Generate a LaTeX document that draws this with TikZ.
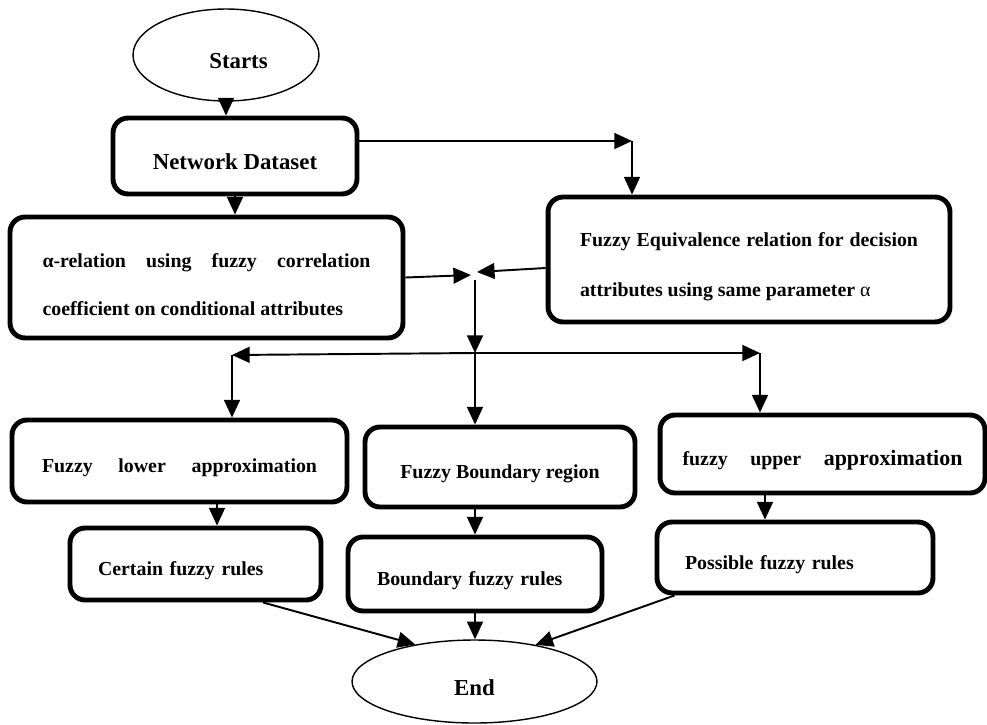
\documentclass[tikz,border=0pt]{standalone}
\usepackage{fontspec}
\setmainfont{Liberation Serif}
\usetikzlibrary{shapes.geometric,arrows.meta,positioning,calc}

\begin{document}
\begin{tikzpicture}[x=0.02cm, y=-0.02cm,
    lowtext/.style={execute at begin node={\rule{0pt}{16pt}}},
    box/.style={rectangle, draw, line width=2.8pt, rounded corners=3mm, inner sep=0pt, lowtext, font=\bfseries\fontsize{11.3}{27}\selectfont},
    term/.style={ellipse, draw, line width=0.8pt, inner sep=0pt, lowtext, font=\bfseries\fontsize{13}{15}\selectfont},
    arr/.style={-{Triangle[length=10pt,width=9pt]}, line width=1.1pt}]
    \useasboundingbox (0,0) rectangle (987,724);

    % Start and dataset
    \node[term, minimum width=37.2mm, minimum height=18.4mm] (start) at (226,55) {\hspace*{5mm}Starts};
    \node[box, minimum width=48.8mm, minimum height=15.2mm, font=\bfseries\fontsize{13}{15}\selectfont] (nd) at (235,156) {Network Dataset};

    % Relations
    \node[box, minimum width=78.6mm, minimum height=24.2mm, text width=65.6mm, align=justify] (alpha) at (206.5,277.5)
        {α-relation using fuzzy correlation\linebreak coefficient on conditional attributes};
    \node[box, minimum width=80.4mm, minimum height=25mm, text width=67.6mm, align=justify, font=\bfseries\fontsize{11.3}{28.5}\selectfont] (fe) at (749,259.5)
        {Fuzzy Equivalence relation for decision\linebreak attributes using same parameter {\mdseries α}};

    % Approximations
    \node[box, minimum width=67mm, minimum height=16.4mm, text width=55mm, align=left] (low) at (179.5,461)
        {Fuzzy\hfill lower\hfill approximation};
    \node[box, minimum width=54mm, minimum height=16mm] (bnd) at (500,467) {Fuzzy Boundary region};
    \node[box, minimum width=65mm, minimum height=15.6mm, text width=56mm, align=left] (up) at (822.5,454)
        {fuzzy\hfill upper\hfill {\fontsize{12.5}{14}\selectfont approximation}};

    % Rules
    \node[box, minimum width=50.2mm, minimum height=14.4mm, text width=39mm, align=left] (cer) at (195.5,564) {Certain fuzzy rules};
    \node[box, minimum width=50.8mm, minimum height=14.8mm, text width=39.2mm, align=left] (bfr) at (475,574) {Boundary fuzzy rules};
    \node[box, minimum width=55.2mm, minimum height=14.2mm, text width=44mm, align=left] (pos) at (795,557.5) {Possible fuzzy rules};

    % End
    \node[term, minimum width=49mm, minimum height=16.6mm] (end) at (474.5,681.5) {End};

    % Junctions
    \coordinate (fecorner) at (632,141);
    \coordinate (jl) at (471,275);
    \coordinate (jr) at (477,272);
    \coordinate (jtop) at (475,280);
    \coordinate (jsplit) at (475,353);
    \coordinate (lcorner) at (232,355);
    \coordinate (ucorner) at (760,353);
    \coordinate (ccol) at (217,0);
    \coordinate (pcol) at (765,0);

    % Connectors
    \draw[arr] (start) -- (start |- nd.north);
    \draw[arr] (nd) -- (nd |- alpha.north);
    \draw[arr] (nd.east |- fecorner) -- (fecorner);
    \draw[arr] (fecorner) -- (fecorner |- fe.north);
    \draw[arr] (alpha.east) -- (jl);
    \draw[arr] ([yshift=-1.7mm]fe.west) -- (jr);
    \draw[arr] (jtop) -- (jsplit);
    \draw[arr] (jsplit) -- (lcorner);
    \draw[arr] (lcorner) -- (lcorner |- low.north);
    \draw[arr] (jsplit) -- (ucorner);
    \draw[arr] (ucorner) -- (ucorner |- up.north);
    \draw[arr] (jsplit) -- (jsplit |- bnd.north);
    \draw[arr] (low.south -| ccol) -- (cer.north -| ccol);
    \draw[arr] (bnd.south -| bfr.north) -- (bfr.north);
    \draw[arr] (up.south -| pcol) -- (pos.north -| pcol);
    \draw[arr] ([xshift=13.5mm]cer.south) -- (end.148);
    \draw[arr] (bfr.south) -- (bfr.south |- end.north);
    \draw[arr] ([xshift=4mm]pos.south west) -- (end.31);
\end{tikzpicture}
\end{document}
